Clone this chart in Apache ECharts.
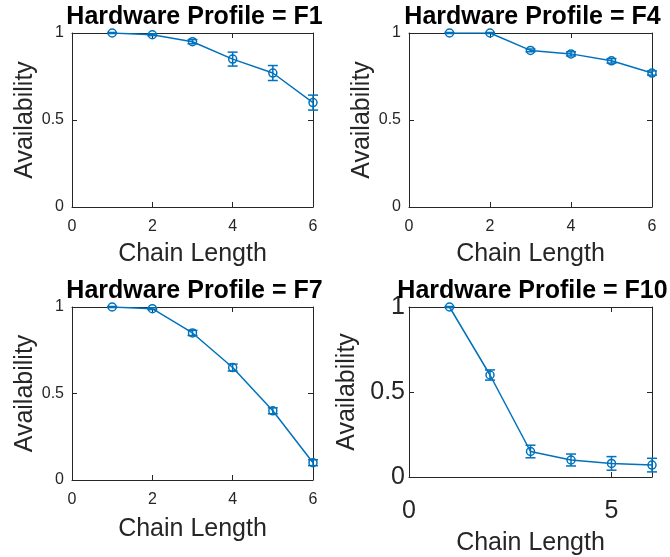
<!DOCTYPE html>
<html>
<head>
<meta charset="utf-8">
<script src="https://cdn.jsdelivr.net/npm/echarts@6/dist/echarts.min.js"></script>
<style>
  html, body { margin: 0; padding: 0; background: #fff; }
  #chart { width: 670px; height: 557px; }
</style>
</head>
<body>
<div id="chart"></div>
<script>
// Chain lengths tested for every hardware profile
const chainLength = [1, 2, 3, 4, 5, 6];

// Mean availability per profile
const availF1  = [1.00, 0.99, 0.95, 0.85, 0.77, 0.60];
const availF4  = [1.00, 1.00, 0.90, 0.88, 0.84, 0.77];
const availF7  = [1.00, 0.99, 0.85, 0.65, 0.40, 0.10];
const availF10 = [1.00, 0.60, 0.15, 0.10, 0.08, 0.07];

// Error bar half-widths per profile
const errF1  = [0.003, 0.005, 0.012, 0.040, 0.043, 0.043];
const errF4  = [0.003, 0.003, 0.008, 0.012, 0.013, 0.012];
const errF7  = [0.003, 0.005, 0.015, 0.020, 0.017, 0.017];
const errF10 = [0.003, 0.030, 0.037, 0.035, 0.040, 0.040];

const profiles = ['F1', 'F4', 'F7', 'F10'];
const values = [availF1, availF4, availF7, availF10];
const errors = [errF1, errF4, errF7, errF10];

const xTickStep = [2, 2, 2, 5];

const BLUE = '#0072BD';
const AXIS = '#262626';
const FONT = '"Liberation Sans", Arial, Helvetica, sans-serif';

const grids = [
  { left: 72,  top: 33,  width: 241, height: 174 },
  { left: 409, top: 33,  width: 243, height: 174 },
  { left: 72,  top: 307, width: 241, height: 173 },
  { left: 409, top: 307, width: 243, height: 173 }
];

// per-panel text placement
const bigTicks   = [false, false, false, true];
const xNameGap   = [35, 35, 37, 54];
const yNameGap   = [33, 31, 33, 49];

const xAxes = [], yAxes = [], series = [], titles = [];

grids.forEach((g, i) => {
  const big = bigTicks[i];
  const tickFont = big ? 25 : 16;
  // bottom x axis with labels
  xAxes.push({
    gridIndex: i, type: 'value', min: 0, max: 6, interval: xTickStep[i],
    position: 'bottom',
    name: 'Chain Length', nameLocation: 'middle',
    nameGap: xNameGap[i],
    nameTextStyle: { fontFamily: FONT, fontSize: 25, color: AXIS },
    axisLine: { show: true, onZero: false, lineStyle: { color: AXIS, width: 1 } },
    axisTick: { show: true, inside: true, length: 5, lineStyle: { color: AXIS } },
    axisLabel: { fontFamily: FONT, fontSize: tickFont, color: AXIS, margin: big ? 22 : 12,
                 showMaxLabel: !big },
    splitLine: { show: false }
  });
  // top x axis: box edge + ticks
  xAxes.push({
    gridIndex: i, type: 'value', min: 0, max: 6, interval: xTickStep[i],
    position: 'top',
    axisLine: { show: true, onZero: false, lineStyle: { color: AXIS, width: 1 } },
    axisTick: { show: true, inside: true, length: 5, lineStyle: { color: AXIS } },
    axisLabel: { show: false },
    splitLine: { show: false }
  });
  yAxes.push({
    gridIndex: i, type: 'value', min: 0, max: 1, interval: 0.5,
    position: 'left',
    name: 'Availability', nameLocation: 'middle', nameRotate: 90,
    nameGap: yNameGap[i],
    nameTextStyle: { fontFamily: FONT, fontSize: 25, color: AXIS },
    axisLine: { show: true, onZero: false, lineStyle: { color: AXIS, width: 1 } },
    axisTick: { show: true, inside: true, length: 5, lineStyle: { color: AXIS } },
    axisLabel: { fontFamily: FONT, fontSize: tickFont, color: AXIS, margin: big ? 4 : 8 },
    splitLine: { show: false }
  });
  // right y axis: box edge + ticks
  yAxes.push({
    gridIndex: i, type: 'value', min: 0, max: 1, interval: 0.5,
    position: 'right',
    axisLine: { show: true, onZero: false, lineStyle: { color: AXIS, width: 1 } },
    axisTick: { show: true, inside: true, length: 5, lineStyle: { color: AXIS } },
    axisLabel: { show: false },
    splitLine: { show: false }
  });

  const pts = chainLength.map((x, k) => [x, values[i][k]]);
  const errPts = chainLength.map((x, k) => [x, values[i][k] - errors[i][k], values[i][k] + errors[i][k]]);

  series.push({
    type: 'line', xAxisIndex: 2 * i, yAxisIndex: 2 * i,
    data: pts, symbol: 'circle', symbolSize: 8,
    lineStyle: { color: BLUE, width: 1.5 },
    itemStyle: { color: 'rgba(0,0,0,0)', borderColor: BLUE, borderWidth: 1.5 },
    emphasis: { disabled: true }, animation: false, z: 3
  });
  series.push({
    type: 'custom', xAxisIndex: 2 * i, yAxisIndex: 2 * i,
    data: errPts, animation: false, z: 4,
    renderItem: function (params, api) {
      const x = api.value(0);
      const lo = api.coord([x, api.value(1)]);
      const hi = api.coord([x, api.value(2)]);
      const cap = 5;
      const style = { stroke: BLUE, lineWidth: 1.5, fill: null };
      return {
        type: 'group',
        children: [
          { type: 'line', shape: { x1: lo[0], y1: lo[1], x2: hi[0], y2: hi[1] }, style },
          { type: 'line', shape: { x1: lo[0] - cap, y1: lo[1], x2: lo[0] + cap, y2: lo[1] }, style },
          { type: 'line', shape: { x1: hi[0] - cap, y1: hi[1], x2: hi[0] + cap, y2: hi[1] }, style }
        ]
      };
    }
  });

  titles.push({
    text: 'Hardware Profile = ' + profiles[i],
    left: g.left + g.width / 2 - 3, top: g.top - 33, textAlign: 'center',
    textStyle: { fontFamily: FONT, fontSize: 25, fontWeight: 'bold', color: '#000' }
  });
});

const chart = echarts.init(document.getElementById('chart'), null, { renderer: 'canvas' });
chart.setOption({
  backgroundColor: '#fff',
  animation: false,
  title: titles,
  grid: grids,
  xAxis: xAxes,
  yAxis: yAxes,
  series: series
});
</script>
</body>
</html>
